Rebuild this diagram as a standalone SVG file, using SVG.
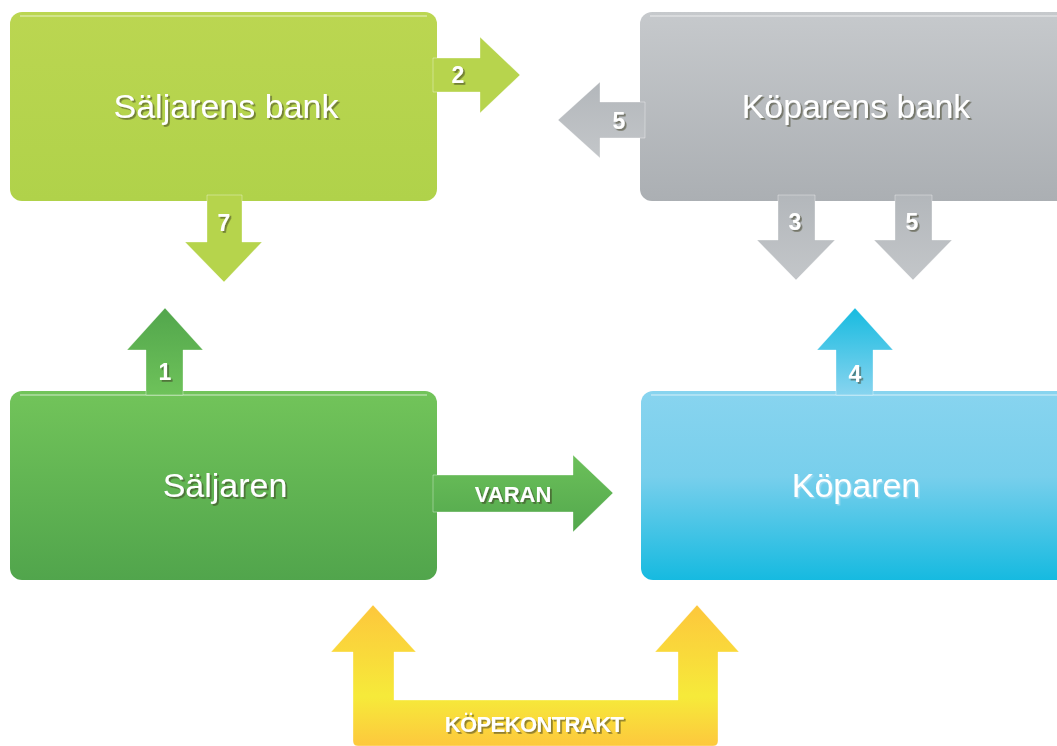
<svg xmlns="http://www.w3.org/2000/svg" width="1057" height="746" viewBox="0 0 1057 746">
<defs>
<linearGradient id="gLime" x1="0" y1="0" x2="0" y2="1"><stop offset="0" stop-color="#bbd651"/><stop offset="1" stop-color="#b0d24a"/></linearGradient>
<linearGradient id="gGray" x1="0" y1="0" x2="0" y2="1"><stop offset="0" stop-color="#c6c9cc"/><stop offset="1" stop-color="#abafb3"/></linearGradient>
<linearGradient id="gGreen" x1="0" y1="0" x2="0" y2="1"><stop offset="0" stop-color="#72c45a"/><stop offset="1" stop-color="#51a54c"/></linearGradient>
<linearGradient id="gBlue" x1="0" y1="0" x2="0" y2="1"><stop offset="0" stop-color="#88d4ef"/><stop offset="0.45" stop-color="#78cfec"/><stop offset="1" stop-color="#16bae0"/></linearGradient>
<linearGradient id="gUp1" x1="0" y1="0" x2="0" y2="1"><stop offset="0" stop-color="#52a64c"/><stop offset="1" stop-color="#6ec25a"/></linearGradient>
<linearGradient id="gUp4" x1="0" y1="0" x2="0" y2="1"><stop offset="0" stop-color="#17bbe0"/><stop offset="1" stop-color="#88d4ef"/></linearGradient>
<linearGradient id="gGrayA" x1="0" y1="0" x2="0" y2="1"><stop offset="0" stop-color="#b3b7bb"/><stop offset="1" stop-color="#c3c6c9"/></linearGradient>
<linearGradient id="gVaran" x1="0" y1="0" x2="0" y2="1"><stop offset="0" stop-color="#6cc05a"/><stop offset="1" stop-color="#53a84d"/></linearGradient>
<linearGradient id="gYellow" gradientUnits="userSpaceOnUse" x1="0" y1="605" x2="0" y2="746"><stop offset="0" stop-color="#fdc73c"/><stop offset="0.65" stop-color="#f6ea3a"/><stop offset="1" stop-color="#fdc83d"/></linearGradient>
<filter id="sh" x="-10%" y="-20%" width="130%" height="150%"><feDropShadow dx="1.8" dy="1.8" stdDeviation="0.6" flood-color="#3a3a20" flood-opacity="0.55"/></filter>
<filter id="shB" x="-10%" y="-20%" width="130%" height="150%"><feDropShadow dx="1.5" dy="1.5" stdDeviation="0.6" flood-color="#9fdcf2" flood-opacity="0.9"/></filter>
</defs>
<style>
.node{stroke:none}
.hl{stroke:#ffffff;stroke-opacity:0.45;stroke-width:1.5;fill:none}
.arr{stroke:#ffffff;stroke-opacity:0.35;stroke-width:1;stroke-linejoin:round}
.big{font-family:"Liberation Sans",Arial,sans-serif;font-size:34px;fill:#ffffff;text-anchor:middle}
.num{font-family:"Liberation Sans",Arial,sans-serif;font-size:23px;font-weight:bold;fill:#ffffff;text-anchor:middle}
.lbl{font-family:"Liberation Sans",Arial,sans-serif;font-size:22px;font-weight:bold;fill:#ffffff;text-anchor:middle}
</style>
<rect width="1057" height="746" fill="#ffffff"/>
<g id="node-saljarens-bank">
<rect class="node" x="10" y="12" width="427" height="189" rx="12" fill="url(#gLime)"/>
<line class="hl" x1="20" y1="16" x2="427" y2="16"/>
<text class="big" x="226" y="118" filter="url(#sh)">Säljarens bank</text>
</g>
<g id="node-koparens-bank">
<rect class="node" x="640" y="12" width="430" height="189" rx="12" fill="url(#gGray)"/>
<line class="hl" x1="650" y1="16" x2="1057" y2="16"/>
<text class="big" x="856" y="118" filter="url(#sh)">Köparens bank</text>
</g>
<g id="node-saljaren">
<rect class="node" x="10" y="391" width="427" height="189" rx="12" fill="url(#gGreen)"/>
<line class="hl" x1="20" y1="395" x2="427" y2="395"/>
<text class="big" x="225" y="497" filter="url(#sh)">Säljaren</text>
</g>
<g id="node-koparen">
<rect class="node" x="641" y="391" width="430" height="189" rx="12" fill="url(#gBlue)"/>
<line class="hl" x1="651" y1="395" x2="1057" y2="395"/>
<text class="big" x="856" y="497" filter="url(#shB)">Köparen</text>
</g>
<g id="connectors">
<g id="arrow-2">
<path class="arr" d="M433,58 H480 V37 L520,75 L480,113 V92 H433 Z" fill="#b7d44d"/>
<text class="num" x="458" y="83" filter="url(#sh)">2</text>
</g>
<g id="arrow-5-left">
<path class="arr" d="M645,102 H600 V82 L558,120 L600,158 V138 H645 Z" fill="url(#gGrayA)"/>
<text class="num" x="619" y="129" filter="url(#sh)">5</text>
</g>
<g id="arrow-3">
<path class="arr" d="M778,195 H815 V240 H835 L796,280 L757,240 H778 Z" fill="url(#gGrayA)"/>
<text class="num" x="795" y="230" filter="url(#sh)">3</text>
</g>
<g id="arrow-5-down">
<path class="arr" d="M895,195 H932 V240 H952 L913,280 L874,240 H895 Z" fill="url(#gGrayA)"/>
<text class="num" x="912" y="230" filter="url(#sh)">5</text>
</g>
<g id="arrow-7">
<path class="arr" d="M207,195 H242 V242 H262 L224,282 L185,242 H207 Z" fill="#b6d44c"/>
<text class="num" x="224" y="231" filter="url(#sh)">7</text>
</g>
<g id="arrow-1">
<path class="arr" d="M146,395 V350 H127 L165,308 L203,350 H183 V395 Z" fill="url(#gUp1)"/>
<text class="num" x="165" y="380" filter="url(#sh)">1</text>
</g>
<g id="arrow-4">
<path class="arr" d="M836,395 V350 H817 L855,308 L893,350 H873 V395 Z" fill="url(#gUp4)"/>
<text class="num" x="855" y="382" filter="url(#sh)">4</text>
</g>
<g id="arrow-varan">
<path class="arr" d="M433,475 H573 V455 L613,493 L573,532 V512 H433 Z" fill="url(#gVaran)"/>
<text class="lbl" x="513" y="502" filter="url(#sh)">VARAN</text>
</g>
<g id="arrow-kopekontrakt">
<path class="arr" d="M353,741 V652 H331 L373,605 L416,652 H394 V700 H678 V652 H655 L697,605 L739,652 H718 V741 Q718,746 713,746 H358 Q353,746 353,741 Z" fill="url(#gYellow)"/>
<text class="lbl" x="534" y="732" font-size="21" letter-spacing="-0.6" filter="url(#sh)">KÖPEKONTRAKT</text>
</g>
</g>
</svg>
